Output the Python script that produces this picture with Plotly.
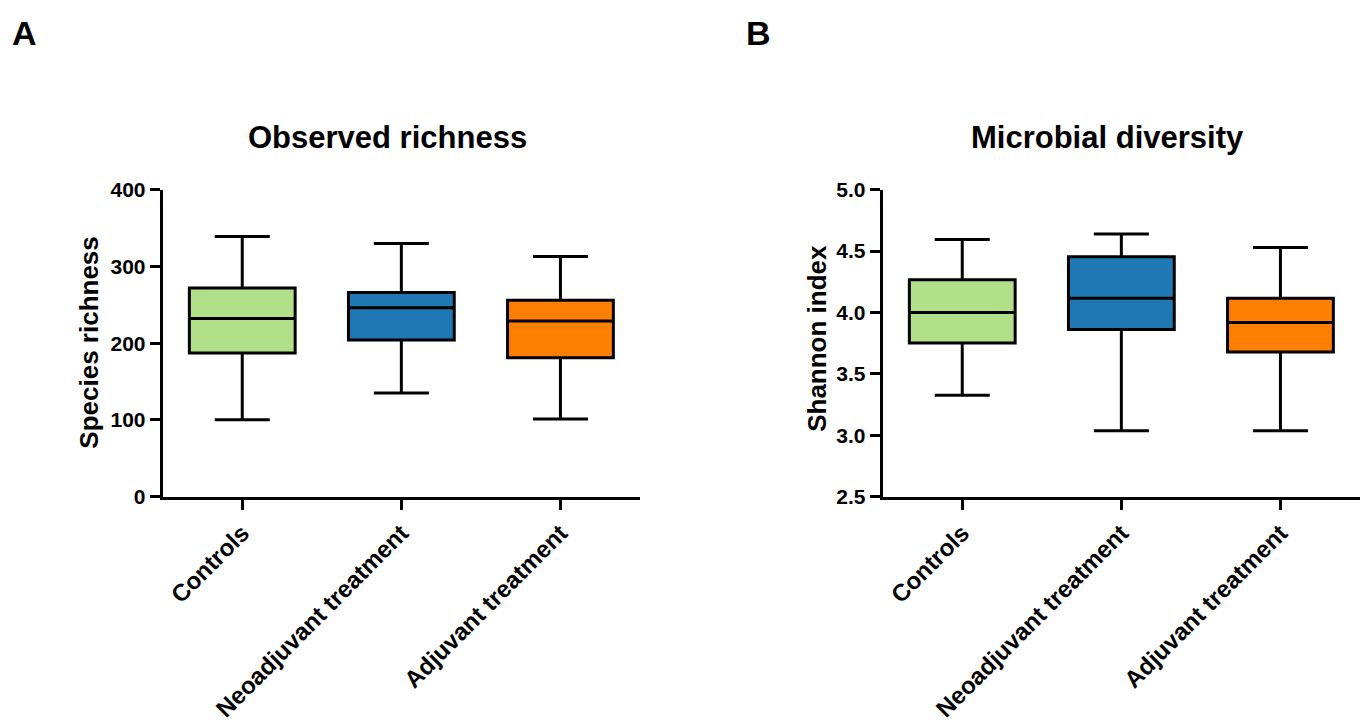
import plotly.graph_objects as go

# ---------------- data ----------------
groups = ["Controls", "Neoadjuvant treatment", "Adjuvant treatment"]
colors = ["#b2df8a", "#1f78b4", "#ff7f00"]

rich_low = [100, 135, 101]
rich_q1 = [187, 204, 181]
rich_med = [232, 246, 229]
rich_q3 = [272, 266, 256]
rich_high = [339, 330, 313]

shan_low = [3.325, 3.037, 3.037]
shan_q1 = [3.751, 3.861, 3.678]
shan_med = [4.00, 4.115, 3.919]
shan_q3 = [4.267, 4.455, 4.115]
shan_high = [4.594, 4.639, 4.529]

rich_ticks = [0, 100, 200, 300, 400]
shan_ticks = [2.5, 3.0, 3.5, 4.0, 4.5, 5.0]

# ---------------- layout helpers ----------------
W, H = 1364, 722
def px(x):
    return x / W
def py(y):
    return 1 - y / H

FONT = "Liberation Sans"

fig = go.Figure()

def add_boxes(low, q1, med, q3, high, xa, ya):
    for i, g in enumerate(groups):
        fig.add_trace(go.Box(
            x=[g], lowerfence=[low[i]], q1=[q1[i]], median=[med[i]],
            q3=[q3[i]], upperfence=[high[i]],
            fillcolor=colors[i], line=dict(color="black", width=3),
            width=0.665, whiskerwidth=0.52, boxpoints=False,
            xaxis=xa, yaxis=ya, showlegend=False, hoverinfo="skip",
        ))

add_boxes(rich_low, rich_q1, rich_med, rich_q3, rich_high, "x", "y")
add_boxes(shan_low, shan_q1, shan_med, shan_q3, shan_high, "x2", "y2")

xax = dict(type="category", categoryorder="array", categoryarray=groups,
           range=[-0.5, 2.5], showline=True, linewidth=3, linecolor="black",
           ticks="outside", ticklen=10, tickwidth=3, tickcolor="black",
           tickangle=-45, showgrid=False, zeroline=False,
           tickfont=dict(family=FONT, size=24, color="black", weight="bold"))
yax = dict(showline=True, linewidth=3, linecolor="black",
           ticks="outside", ticklen=10, tickwidth=3, tickcolor="black",
           showgrid=False, zeroline=False,
           tickfont=dict(family=FONT, size=21, color="black", weight="bold"))

ydom = [py(507), py(186)]
fig.update_layout(
    width=W, height=H, margin=dict(l=0, r=0, t=0, b=0),
    paper_bgcolor="white", plot_bgcolor="white", boxmode="overlay",
    xaxis=dict(xax, domain=[px(162.7), px(640)], anchor="y"),
    yaxis=dict(yax, domain=ydom, anchor="x", range=[0, 400],
               tickvals=rich_ticks, ticktext=[str(t) for t in rich_ticks]),
    xaxis2=dict(xax, domain=[px(882.7), px(1360)], anchor="y2"),
    yaxis2=dict(yax, domain=ydom, anchor="x2", range=[2.5, 5.0],
                tickvals=shan_ticks, ticktext=[f"{t:.1f}" for t in shan_ticks]),
)

def ann(text, x, y, size, angle=0):
    fig.add_annotation(text=text, x=px(x), y=py(y), xref="paper", yref="paper",
                       showarrow=False, textangle=angle, xanchor="center", yanchor="middle",
                       font=dict(family=FONT, size=size, color="black", weight="bold"))

ann("A", 24, 22, 34)
ann("B", 759, 22, 34)
ann("Observed richness", 387, 131, 31)
ann("Microbial diversity", 1107, 131, 31)
ann("Species richness", 89, 346, 26, -90)
ann("Shannon index", 817, 342, 26, -90)

fig.write_html("out.html")
